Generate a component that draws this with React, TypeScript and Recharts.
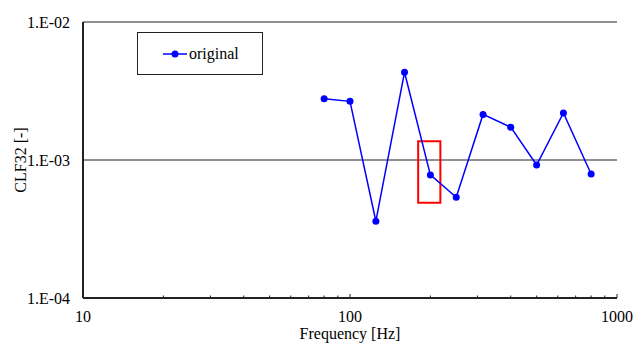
import {
  LineChart,
  Line,
  XAxis,
  YAxis,
  CartesianGrid,
  Legend,
  ReferenceArea,
} from "recharts";

// 1/3 octave band centre frequencies [Hz]
const FREQS = [80, 100, 125, 160, 200, 250, 315, 400, 500, 630, 800];
// coupling loss factor
const CLF32 = [
  2.78e-3, 2.66e-3, 3.6e-4, 4.32e-3, 7.8e-4, 5.37e-4, 2.14e-3, 1.73e-3, 9.2e-4,
  2.19e-3, 7.92e-4,
];

const X_TICKS = [10, 100, 1000];
const X_MINOR = [
  20, 30, 40, 50, 60, 70, 80, 90, 200, 300, 400, 500, 600, 700, 800, 900,
];
const Y_TICKS = [1e-4, 1e-3, 1e-2];

// red box around the 200 Hz point
const MARK_FREQ = [180, 218];
const MARK_CLF = [4.9e-4, 1.37e-3];

const FONT = "'Liberation Serif', 'DejaVu Serif', serif";
const FRAME = "#222222";
const BLUE = "#0000FF";
const TICK_GAP = 13;

const data = FREQS.map((f, i) => ({ freq: f, clf: CLF32[i] }));

const fmtExp = (v: number) => {
  const e = Math.round(Math.log10(v));
  return `1.E${e < 0 ? "-" : "+"}${String(Math.abs(e)).padStart(2, "0")}`;
};

// x tick: draw the inside tick mark ourselves, label only on decades
const XTick = (props: any) => {
  const { x, y, payload } = props;
  const v = payload.value;
  const major = X_TICKS.includes(v);
  const axisY = y - TICK_GAP;
  return (
    <g>
      <line
        x1={x}
        x2={x}
        y1={axisY}
        y2={axisY - (major ? 4 : 2.5)}
        stroke={FRAME}
        strokeWidth={1}
      />
      {major && (
        <text
          x={x}
          y={y + 11}
          textAnchor="middle"
          fontFamily={FONT}
          fontSize={16}
          fill="#000"
        >
          {v}
        </text>
      )}
    </g>
  );
};

const renderLegend = () => (
  <div
    style={{
      boxSizing: "border-box",
      width: 126,
      height: 43,
      border: `1.5px solid ${FRAME}`,
      background: "#fff",
      display: "flex",
      alignItems: "center",
      fontFamily: FONT,
      fontSize: 16,
      color: "#000",
    }}
  >
    <svg width={24} height={10} style={{ marginLeft: 25 }}>
      <line x1={0} x2={24} y1={5} y2={5} stroke={BLUE} strokeWidth={1.5} />
      <circle cx={12} cy={5} r={3.5} fill={BLUE} />
    </svg>
    <span style={{ marginLeft: 2 }}>original</span>
  </div>
);

export default function App() {
  const all = [...X_TICKS, ...X_MINOR].sort((a, b) => a - b);

  return (
    <div
      style={{
        position: "absolute",
        left: 0,
        top: 0,
        background: "#fff",
        fontFamily: FONT,
      }}
    >
      <LineChart
        width={633}
        height={345}
        data={data}
        margin={{ top: 22, right: 16, bottom: 0, left: 0 }}
        style={{ fontFamily: FONT }}
      >
        <CartesianGrid vertical={false} stroke={FRAME} strokeWidth={1} />
        <XAxis
          dataKey="freq"
          type="number"
          scale="log"
          domain={[10, 1000]}
          allowDataOverflow
          ticks={all}
          interval={0}
          tick={<XTick />}
          tickLine={false}
          tickSize={0}
          tickMargin={TICK_GAP}
          height={47}
          axisLine={{ stroke: FRAME, strokeWidth: 2 }}
          label={{
            content: ({ viewBox }: any) => (
              <text
                x={viewBox.x + viewBox.width / 2}
                y={viewBox.y + viewBox.height - 6}
                textAnchor="middle"
                fontFamily={FONT}
                fontSize={16}
                fill="#000"
              >
                Frequency [Hz]
              </text>
            ),
          }}
        />
        <XAxis
          xAxisId="top"
          orientation="top"
          type="number"
          scale="log"
          domain={[10, 1000]}
          height={0}
          tick={false}
          tickLine={false}
          axisLine={{ stroke: FRAME, strokeWidth: 2 }}
        />
        <YAxis
          type="number"
          scale="log"
          domain={[1e-4, 1e-2]}
          allowDataOverflow
          ticks={Y_TICKS}
          interval={0}
          tickFormatter={fmtExp}
          tickLine={false}
          tickSize={0}
          tickMargin={TICK_GAP}
          width={83}
          axisLine={{ stroke: FRAME, strokeWidth: 2 }}
          tick={{ fontFamily: FONT, fontSize: 16, fill: "#000" }}
          label={{
            content: ({ viewBox }: any) => (
              <text
                x={20}
                y={viewBox.y + viewBox.height / 2}
                transform={`rotate(-90, 20, ${viewBox.y + viewBox.height / 2})`}
                textAnchor="middle"
                dominantBaseline="central"
                fontFamily={FONT}
                fontSize={16}
                fill="#000"
              >
                CLF32 [-]
              </text>
            ),
          }}
        />
        <YAxis
          yAxisId="right"
          orientation="right"
          type="number"
          scale="log"
          domain={[1e-4, 1e-2]}
          width={0}
          tick={false}
          tickLine={false}
          axisLine={{ stroke: FRAME, strokeWidth: 2 }}
        />
        <Legend
          layout="horizontal"
          align="center"
          verticalAlign="middle"
          content={renderLegend}
          wrapperStyle={{ left: 137, top: 32, width: 126, height: 43 }}
        />
        <Line
          dataKey="clf"
          stroke={BLUE}
          strokeWidth={1.5}
          dot={{ r: 3.5, fill: BLUE, stroke: "none" }}
          activeDot={false}
          isAnimationActive={false}
        />
        <ReferenceArea
          x1={MARK_FREQ[0]}
          x2={MARK_FREQ[1]}
          y1={MARK_CLF[0]}
          y2={MARK_CLF[1]}
          fill="none"
          stroke="#FF0000"
          strokeWidth={2}
          ifOverflow="visible"
        />
      </LineChart>
    </div>
  );
}
